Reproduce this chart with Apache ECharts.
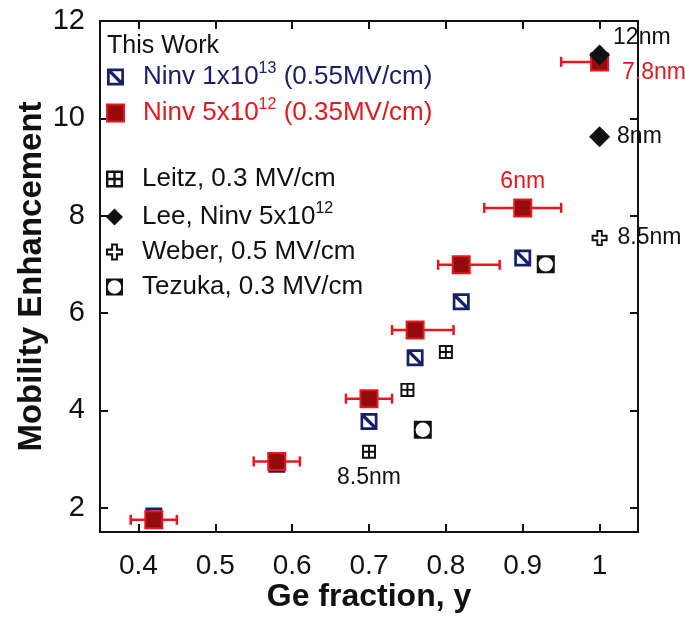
<!DOCTYPE html>
<html>
<head>
<meta charset="utf-8">
<script src="https://cdn.jsdelivr.net/npm/echarts@6/dist/echarts.min.js"></script>
<style>
  html, body { margin: 0; padding: 0; background: #fff; }
  #chart { width: 685px; height: 617px; }
</style>
</head>
<body>
<div id="chart"></div>
<script>
// axis ticks
const xTicks = [0.4, 0.5, 0.6, 0.7, 0.8, 0.9, 1];
const yTicks = [2, 4, 6, 8, 10, 12];

// This work, Ninv 1x10^13
const geBlue = [0.42, 0.58, 0.70, 0.76, 0.82, 0.90, 1.00];
const mobBlue = [1.83, 2.89, 3.77, 5.08, 6.23, 7.13, 11.18];

// This work, Ninv 5x10^12 (with Ge fraction error bars)
const geRed = [0.42, 0.58, 0.70, 0.76, 0.82, 0.90, 1.00];
const mobRed = [1.75, 2.95, 4.24, 5.65, 6.99, 8.16, 11.16];
const geRedLow = [0.39, 0.55, 0.67, 0.73, 0.79, 0.85, 0.95];
const geRedHigh = [0.45, 0.61, 0.73, 0.81, 0.87, 0.95, 1.00];
const noteRed = ['', '', '', '', '', '6nm', '7.8nm'];

// literature
const geLeitz = [0.70, 0.75, 0.80];
const mobLeitz = [3.15, 4.42, 5.20];
const noteLeitz = ['8.5nm', '', ''];

const geLee = [1.00, 1.00];
const mobLee = [11.30, 9.62];
const noteLee = ['12nm', '8nm'];

const geWeber = [1.00];
const mobWeber = [7.54];
const noteWeber = ['8.5nm'];

const geTezuka = [0.93, 0.77];
const mobTezuka = [7.00, 3.60];

const FONT = 'Arial, "Liberation Sans", Helvetica, sans-serif';
const NAVY = '#18206a';
const RED = '#e8161d';
const INK = '#111';

// marker shapes
const symBlue = 'path://M0 0L100 0L100 100L0 100Z M16 16L16 84L84 84L84 16Z M16 16L30 16L84 70L84 84L70 84L16 30Z';
const symLeitz = 'path://M0 0L100 0L100 100L0 100Z M14 14L14 86L86 86L86 14Z M43 14L57 14L57 86L43 86Z M14 43L86 43L86 57L14 57Z';
const symWeber = 'path://M30 0L70 0L70 30L100 30L100 70L70 70L70 100L30 100L30 70L0 70L0 30L30 30Z M42 12L42 42L12 42L12 58L42 58L42 88L58 88L58 58L88 58L88 42L58 42L58 12Z';
const symTezuka = 'path://M0 0L100 0L100 100L0 100Z M50 10A40 40 0 0 0 10 50A40 40 0 0 0 50 90A40 40 0 0 0 90 50A40 40 0 0 0 50 10Z';

function points(xs, ys, notes, labelOpts) {
  return xs.map(function (x, i) {
    const item = { value: [x, ys[i]] };
    if (notes && notes[i]) {
      item.label = Object.assign({ show: true, formatter: notes[i] }, labelOpts[i] || {});
    }
    return item;
  });
}

const names = {
  blue: 'Ninv 1x10^13 (0.55MV/cm)',
  red: 'Ninv 5x10^12 (0.35MV/cm)',
  leitz: 'Leitz, 0.3 MV/cm',
  lee: 'Lee, Ninv 5x10^12',
  weber: 'Weber, 0.5 MV/cm',
  tezuka: 'Tezuka, 0.3 MV/cm'
};

const legendText = {};
legendText[names.blue] = '{nt|Ninv 1x10}{ns|13}{nt| (0.55MV/cm)}';
legendText[names.red] = '{rt|Ninv 5x10}{rs|12}{rt| (0.35MV/cm)}';
legendText[names.leitz] = '{kt|Leitz, 0.3 MV/cm}';
legendText[names.lee] = '{kt|Lee, Ninv 5x10}{ks|12}';
legendText[names.weber] = '{kt|Weber, 0.5 MV/cm}';
legendText[names.tezuka] = '{kt|Tezuka, 0.3 MV/cm}';

const rich = {
  nt: { color: NAVY, fontSize: 26, lineHeight: 32, fontFamily: FONT },
  ns: { color: NAVY, fontSize: 16, verticalAlign: 'top', fontFamily: FONT },
  rt: { color: RED, fontSize: 26, lineHeight: 32, fontFamily: FONT },
  rs: { color: RED, fontSize: 16, verticalAlign: 'top', fontFamily: FONT },
  kt: { color: INK, fontSize: 26, lineHeight: 32, fontFamily: FONT },
  ks: { color: INK, fontSize: 16, verticalAlign: 'top', fontFamily: FONT }
};

const noteStyle = { fontSize: 23, fontFamily: FONT, color: INK };

const legendBase = {
  orient: 'vertical',
  left: 106,
  padding: 0,
  itemWidth: 17,
  itemHeight: 17,
  selectedMode: false,
  formatter: function (n) { return legendText[n]; },
  textStyle: { padding: [0, 0, 0, 14], rich: rich }
};

const tickLine = { show: true, inside: true, length: 8, lineStyle: { color: INK, width: 2 } };
const axisLine = { show: true, onZero: false, lineStyle: { color: INK, width: 2 } };

const option = {
  animation: false,
  backgroundColor: '#fff',
  title: {
    text: 'This Work',
    left: 107,
    top: 34,
    padding: 0,
    textStyle: { fontSize: 25, fontWeight: 'normal', color: INK, fontFamily: FONT }
  },
  legend: [
    Object.assign({}, legendBase, { top: 61, itemGap: 7, data: [names.blue, names.red] }),
    Object.assign({}, legendBase, { top: 166, itemGap: 9, data: [names.leitz, names.lee, names.weber, names.tezuka] })
  ],
  grid: { left: 100, right: 47, top: 21, bottom: 85, outerBoundsMode: 'none' },
  xAxis: [
    {
      type: 'value', position: 'bottom', min: 0.35, max: 1.05,
      axisLine: axisLine,
      axisTick: Object.assign({ customValues: xTicks }, tickLine),
      axisLabel: { customValues: xTicks, fontSize: 28, color: INK, margin: 20, fontFamily: FONT },
      splitLine: { show: false },
      name: 'Ge fraction, y', nameLocation: 'middle', nameGap: 49, nameMoveOverlap: false,
      nameTextStyle: { fontSize: 32, fontWeight: 'bold', color: INK, fontFamily: FONT }
    },
    {
      type: 'value', position: 'top', min: 0.35, max: 1.05,
      axisLine: axisLine,
      axisTick: Object.assign({ customValues: xTicks }, tickLine),
      axisLabel: { show: false },
      splitLine: { show: false }
    }
  ],
  yAxis: [
    {
      type: 'value', position: 'left', min: 1.5, max: 12,
      axisLine: axisLine,
      axisTick: Object.assign({ customValues: yTicks }, tickLine),
      axisLabel: { customValues: yTicks, fontSize: 29, color: INK, margin: 15, fontFamily: FONT },
      splitLine: { show: false },
      name: 'Mobility Enhancement', nameLocation: 'middle', nameGap: 52, nameMoveOverlap: false,
      nameTextStyle: { fontSize: 33, fontWeight: 'bold', color: INK, fontFamily: FONT }
    },
    {
      type: 'value', position: 'right', min: 1.5, max: 12,
      axisLine: axisLine,
      axisTick: Object.assign({ customValues: yTicks }, tickLine),
      axisLabel: { show: false },
      splitLine: { show: false }
    }
  ],
  series: [
    {
      name: names.blue, type: 'scatter', symbol: symBlue, symbolSize: 17,
      itemStyle: { color: NAVY, opacity: 1 },
      data: points(geBlue, mobBlue)
    },
    {
      name: 'error', type: 'custom',
      data: geRedLow.map(function (lo, i) { return [lo, geRedHigh[i], mobRed[i]]; }),
      encode: { x: [0, 1], y: 2 },
      renderItem: function (params, api) {
        const a = api.coord([api.value(0), api.value(2)]);
        const b = api.coord([api.value(1), api.value(2)]);
        const st = { stroke: RED, lineWidth: 2.5 };
        const h = 5;
        return {
          type: 'group',
          children: [
            { type: 'line', shape: { x1: a[0], y1: a[1], x2: b[0], y2: b[1] }, style: st },
            { type: 'line', shape: { x1: a[0], y1: a[1] - h, x2: a[0], y2: a[1] + h }, style: st },
            { type: 'line', shape: { x1: b[0], y1: b[1] - h, x2: b[0], y2: b[1] + h }, style: st }
          ]
        };
      }
    },
    {
      name: names.red, type: 'scatter', symbol: 'rect', symbolSize: 17,
      itemStyle: { color: '#940b0d', borderColor: '#e3191f', borderWidth: 2, opacity: 1 },
      label: Object.assign({}, noteStyle, { color: RED }),
      data: points(geRed, mobRed, noteRed, [null, null, null, null, null,
        { position: 'top', distance: 5 },
        { position: 'right', distance: 13, offset: [0, 11] }])
    },
    {
      name: names.leitz, type: 'scatter', symbol: symLeitz, symbolSize: 14,
      itemStyle: { color: INK, opacity: 1 },
      label: noteStyle,
      data: points(geLeitz, mobLeitz, noteLeitz, [{ position: 'bottom', distance: 7 }])
    },
    {
      name: names.tezuka, type: 'scatter', symbol: symTezuka, symbolSize: 18,
      itemStyle: { color: INK, opacity: 1 },
      data: points(geTezuka, mobTezuka)
    },
    {
      name: names.weber, type: 'scatter', symbol: symWeber, symbolSize: 16,
      itemStyle: { color: INK, opacity: 1 },
      label: noteStyle,
      data: points(geWeber, mobWeber, noteWeber, [{ position: 'right', distance: 10 }])
    },
    {
      name: names.lee, type: 'scatter', symbol: 'diamond', symbolSize: 21,
      itemStyle: { color: INK, opacity: 1 },
      label: noteStyle,
      data: points(geLee, mobLee, noteLee, [
        { position: 'right', distance: 3, offset: [0, -17] },
        { position: 'right', distance: 7 }])
    }
  ]
};

const chart = echarts.init(document.getElementById('chart'));
chart.setOption(option);
</script>
</body>
</html>
